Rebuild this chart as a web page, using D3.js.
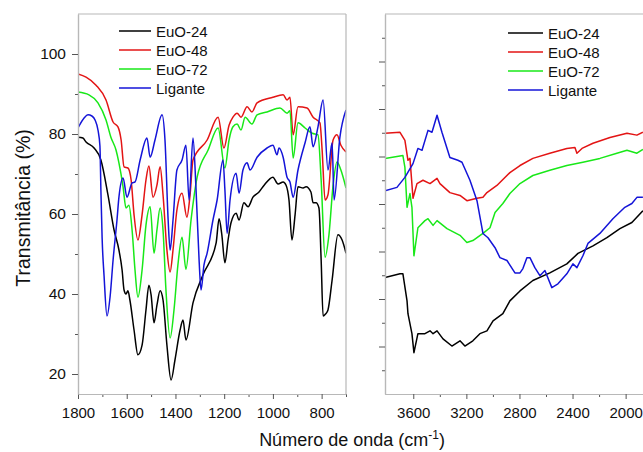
<!DOCTYPE html>
<html>
<head>
<meta charset="utf-8">
<script src="https://cdn.jsdelivr.net/npm/d3@7"></script>
<style>
  html, body { margin: 0; padding: 0; background: #fff; }
  svg { display: block; font-family: "Liberation Sans", Arial, sans-serif; }
</style>
</head>
<body>
<svg id="chart" width="643" height="452"></svg>
<script>
// series names and colours
const seriesNames = ['EuO-24', 'EuO-48', 'EuO-72', 'Ligante'];
const seriesColors = ['#000000', '#e31414', '#18e818', '#1414d8'];

// fingerprint region, 1800-700 cm-1, [wavenumber, transmittance]
const euo24Low = [[1800,79.2],[1780,79],[1767,78],[1734,76.5],[1706,73.5],[1677,64.8],[1652,56],[1632,51],[1619,46],[1611,41],[1603,40],[1595,40.8],[1587,38.5],[1570,31],[1554,24.8],[1537,27.2],[1521,36],[1509,42.2],[1500,39.8],[1488,32.8],[1476,37.2],[1463,40.8],[1451,38.5],[1435,27.2],[1418,18.5],[1402,23.5],[1381,31],[1369,33.5],[1357,28.5],[1328,37.8],[1287,44.8],[1233,52.8],[1221,58.8],[1210,55],[1197,47.8],[1184,53.5],[1172,57.8],[1151,60.2],[1139,58.5],[1119,62.8],[1102,61.8],[1082,64.2],[1057,65.5],[1036,67.2],[1000,69.2],[979,67.5],[958,68],[946,67.2],[934,63.5],[922,53.5],[909,59.8],[897,66.8],[876,66.5],[864,66.8],[844,65.5],[835,62.8],[823,62.8],[811,61.5],[802,48.5],[794,34.5],[784,35],[774,36],[757,43.5],[733,54.8],[716,53.5],[700,50.2]];
const euo48Low = [[1800,95],[1767,94.2],[1726,92.2],[1685,88.5],[1656,83],[1636,81.8],[1623,78.5],[1611,71.8],[1595,71.5],[1582,68.5],[1570,59.8],[1554,53.5],[1537,59.8],[1521,68.5],[1509,72],[1492,64.2],[1476,67.2],[1463,71.8],[1451,64.8],[1435,51],[1422,45.5],[1410,51],[1394,61],[1373,65.2],[1353,59.2],[1340,64.8],[1328,73.5],[1270,78.5],[1225,84.2],[1201,76.5],[1180,82.2],[1164,84.2],[1147,85.2],[1131,84.2],[1106,86.8],[1086,85.5],[1065,87.8],[1000,89.2],[958,89.8],[942,88.5],[930,89.2],[917,79.8],[897,86.8],[860,86.5],[835,84.2],[807,82.8],[798,76],[786,63.5],[774,64.8],[753,78.5],[737,79.8],[721,77.2],[700,75.5]];
const euo72Low = [[1800,90.5],[1755,89.8],[1718,87.8],[1685,83.5],[1665,79.2],[1644,76],[1632,72.8],[1615,66.8],[1603,61.5],[1591,62.2],[1578,56],[1566,46],[1554,39.2],[1537,46],[1521,57.2],[1504,61.8],[1488,50.2],[1476,56],[1463,61.5],[1451,56],[1439,41],[1422,29],[1406,36],[1390,47.2],[1373,54.2],[1357,46.2],[1336,58.5],[1311,69.2],[1266,76],[1225,81.5],[1197,71.5],[1180,78.5],[1164,81.8],[1147,82.5],[1131,81],[1114,84.2],[1086,82.5],[1065,84.8],[1024,85.5],[971,86.5],[942,85.2],[930,85.8],[917,74],[897,82.8],[868,81.5],[839,80.2],[815,79.8],[802,68.5],[786,49.2],[770,54.8],[753,67.2],[737,73],[721,71],[700,66.5]];
const ligandLow = [[1800,81.5],[1775,84],[1759,84.8],[1743,84.5],[1730,83.5],[1718,81],[1710,77],[1706,66],[1701,54],[1693,44.5],[1681,34.5],[1668,39.5],[1656,48.5],[1640,58.5],[1632,64.2],[1615,69],[1599,64.2],[1578,67.8],[1566,68],[1545,73.5],[1517,79],[1504,74.2],[1484,78.5],[1455,84.8],[1443,78.5],[1430,58.5],[1422,51],[1410,58.5],[1394,71],[1373,73.5],[1357,77.2],[1344,63.5],[1328,79],[1316,66.8],[1303,48.5],[1295,41],[1283,47.2],[1270,50.2],[1246,58.5],[1229,63.5],[1205,73.5],[1197,66],[1188,55.2],[1176,63.5],[1151,70.2],[1139,65.2],[1123,71],[1106,72.8],[1094,71],[1065,74.2],[1024,76.5],[1000,77.2],[983,74.8],[975,76.5],[958,74.2],[942,69.2],[930,68],[917,64.2],[897,71],[868,77.8],[848,81.8],[835,76.8],[815,81.8],[794,88.5],[774,71],[757,77.8],[749,63.5],[725,79.2],[700,86]];

// high region, 3800-1870 cm-1 (own scale, no labels)
const euo24High = [[3813,44.5],[3700,45.3],[3678,45.3],[3647,39.6],[3640,36.9],[3610,32.7],[3595,28.7],[3565,32.7],[3512,32.7],[3474,33.3],[3451,32.7],[3421,33.3],[3376,31.6],[3309,30.1],[3248,31.2],[3211,30.1],[3151,31.2],[3098,32.7],[3045,33.3],[2999,35.4],[2925,36.9],[2872,39.6],[2796,41.7],[2699,43.9],[2571,45.5],[2443,47.4],[2359,49.6],[2246,51.2],[2141,52.9],[2043,54.8],[1953,56.1],[1870,58.6]];
const euo48High = [[3813,74.9],[3700,75.1],[3663,73.4],[3640,69.2],[3625,69.6],[3602,61.2],[3572,64.3],[3527,65],[3474,64.3],[3421,65.4],[3399,64.3],[3324,62.4],[3248,61.8],[3196,60.7],[3120,61.2],[3075,61.4],[3045,62.4],[2970,63.9],[2872,66.6],[2796,68.1],[2699,69.6],[2571,70.7],[2443,71.7],[2382,71.9],[2367,70.7],[2329,71.7],[2246,72.8],[2118,74],[1990,74.9],[1915,74.5],[1870,75.1]];
const euo72High = [[3813,69.6],[3678,70.2],[3663,67.7],[3647,59.3],[3625,62.2],[3610,59.3],[3595,49.1],[3565,55],[3512,56.5],[3489,56.9],[3451,55.5],[3421,56.5],[3346,54.8],[3248,53.4],[3196,51.9],[3151,52.3],[3075,53.8],[3022,55],[2984,58.2],[2925,60.1],[2872,62.2],[2796,64.3],[2699,66],[2571,67.1],[2443,68.1],[2322,68.8],[2194,69.6],[2066,70.7],[1990,71.3],[1915,70.7],[1870,71.5]];
const ligandHigh = [[3813,62.8],[3723,63.5],[3663,65.6],[3602,68.5],[3565,71.7],[3534,71.3],[3489,75.5],[3459,75.1],[3421,78.7],[3384,75.1],[3324,69.8],[3264,69.2],[3233,68.8],[3173,65],[3120,60.7],[3075,53.8],[3037,52.9],[2984,50.8],[2947,48.7],[2894,48.1],[2834,45.5],[2796,45.5],[2774,46.4],[2744,48.7],[2721,48.7],[2684,46.6],[2646,44.9],[2608,46],[2556,42.4],[2510,43.2],[2443,45.3],[2397,47.4],[2367,46.6],[2322,49.1],[2284,51.7],[2194,53.8],[2096,56.9],[2006,59.3],[1953,60.1],[1915,61.4],[1870,61.4]];

// ticks
const lowMajorX = [1800, 1600, 1400, 1200, 1000, 800];
const lowMinorX = [1700, 1500, 1300, 1100, 900, 700];
const lowMajorY = [20, 40, 60, 80, 100];
const lowMinorY = [30, 50, 70, 90];
const highMajorX = [3600, 3200, 2800, 2400, 2000];
const highMinorX = [3400, 3000, 2600, 2200];
const highMajorY = [30, 40, 50, 60, 70, 80, 90];
const highMinorY = [25, 35, 45, 55, 65, 75, 85, 95];

const svg = d3.select('#chart'),
    plotTop = 14,
    plotBottom = 394,
    axisGrey = '#b8b8b8',
    tickGrey = '#555';

const xLow = d3.scaleLinear().domain([1800, 700]).range([78, 346]),
    yLow = d3.scaleLinear().domain([15, 110]).range([plotBottom, plotTop]),
    xHigh = d3.scaleLinear().domain([3813, 1500]).range([385, 692]),
    yHigh = d3.scaleLinear().domain([20, 100]).range([plotBottom, plotTop]);

function styleAxis(g, fontSize) {
    g.select('.domain').attr('stroke', axisGrey).attr('stroke-width', 1.2);
    g.selectAll('.tick line').attr('stroke', tickGrey);
    g.selectAll('.tick text')
        .attr('fill', '#111')
        .style('font-size', fontSize + 'px')
        .style('font-family', '"Liberation Sans", Arial, sans-serif');
}

function drawAxes(x, y, majX, minX, majY, minY, showYLabels) {
    const xr = x.range();

    svg.append('g')
        .attr('transform', `translate(0,${plotBottom})`)
        .call(d3.axisBottom(x).tickValues(minX).tickSize(3).tickSizeOuter(0).tickFormat(''))
        .call(g => styleAxis(g, 15));

    svg.append('g')
        .attr('transform', `translate(0,${plotBottom})`)
        .call(d3.axisBottom(x).tickValues(majX).tickSize(5).tickPadding(8).tickSizeOuter(0).tickFormat(d3.format('d')))
        .call(g => styleAxis(g, 15));

    svg.append('g')
        .attr('transform', `translate(${xr[0]},0)`)
        .call(d3.axisLeft(y).tickValues(minY).tickSize(3).tickSizeOuter(0).tickFormat(''))
        .call(g => styleAxis(g, 15));

    svg.append('g')
        .attr('transform', `translate(${xr[0]},0)`)
        .call(d3.axisLeft(y).tickValues(majY).tickSize(6).tickPadding(6).tickSizeOuter(0)
            .tickFormat(showYLabels ? d3.format('d') : ''))
        .call(g => styleAxis(g, 15.5));

    // top edge of the frame
    svg.append('line')
        .attr('x1', xr[0]).attr('x2', xr[1])
        .attr('y1', plotTop).attr('y2', plotTop)
        .attr('stroke', axisGrey).attr('stroke-width', 1.2);
}

function drawCurves(id, x, y, data, curve) {
    const xr = x.range();

    svg.append('clipPath')
        .attr('id', id)
        .append('rect')
        .attr('x', xr[0]).attr('y', plotTop)
        .attr('width', xr[1] - xr[0]).attr('height', plotBottom - plotTop);

    const line = d3.line()
        .x(d => x(d[0]))
        .y(d => y(d[1]))
        .curve(curve);

    svg.append('g')
        .attr('clip-path', `url(#${id})`)
        .selectAll('path')
        .data(data)
        .join('path')
        .attr('d', line)
        .attr('fill', 'none')
        .attr('stroke', (d, i) => seriesColors[i])
        .attr('stroke-width', 1.5)
        .attr('stroke-linejoin', 'round');
}

function drawLegend(x0, y0, lineLen) {
    const g = svg.append('g').attr('transform', `translate(${x0},${y0})`);

    const rows = g.selectAll('g')
        .data(seriesNames)
        .join('g')
        .attr('transform', (d, i) => `translate(0,${i * 19})`);

    rows.append('line')
        .attr('x1', 0).attr('x2', lineLen)
        .attr('stroke', (d, i) => seriesColors[i])
        .attr('stroke-width', 1.5);

    rows.append('text')
        .attr('x', lineLen + 5)
        .attr('y', 5.5)
        .style('font-size', '15px')
        .attr('fill', '#111')
        .text(d => d);
}

drawCurves('clip-low', xLow, yLow, [euo24Low, euo48Low, euo72Low, ligandLow], d3.curveMonotoneX);
drawCurves('clip-high', xHigh, yHigh, [euo24High, euo48High, euo72High, ligandHigh], d3.curveLinear);

drawAxes(xLow, yLow, lowMajorX, lowMinorX, lowMajorY, lowMinorY, true);
drawAxes(xHigh, yHigh, highMajorX, highMinorX, highMajorY, highMinorY, false);

// right edge of the left panel
svg.append('line')
    .attr('x1', xLow.range()[1]).attr('x2', xLow.range()[1])
    .attr('y1', plotTop).attr('y2', plotBottom)
    .attr('stroke', axisGrey).attr('stroke-width', 1.2);

drawLegend(119, 31, 32);
drawLegend(508, 33, 35);

// axis titles
svg.append('text')
    .attr('transform', 'rotate(-90)')
    .attr('x', -208)
    .attr('y', 30)
    .attr('text-anchor', 'middle')
    .style('font-size', '19.5px')
    .attr('fill', '#111')
    .text('Transmitância (%)');

const xTitle = svg.append('text')
    .attr('x', 352)
    .attr('y', 446)
    .attr('text-anchor', 'middle')
    .style('font-size', '18px')
    .attr('fill', '#111');

xTitle.append('tspan').text('Número de onda (cm');
xTitle.append('tspan').attr('dy', -7).style('font-size', '12px').text('-1');
xTitle.append('tspan').attr('dy', 7).text(')');
</script>
</body>
</html>
